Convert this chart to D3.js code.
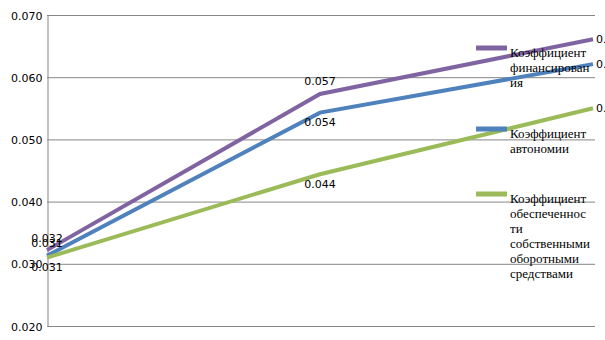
<!DOCTYPE html>
<html>
<head>
<meta charset="utf-8">
<script src="https://cdn.jsdelivr.net/npm/d3@7"></script>
<style>
  body { margin: 0; background: #fff; }
  svg { display: block; }
</style>
</head>
<body>
<svg id="chart" width="605" height="340"></svg>
<script>
// данные
const categories = ["1", "2", "3"];
const seriesNames = [
  ["Коэффициент", "финансирован", "ия"],
  ["Коэффициент", "автономии"],
  ["Коэффициент", "обеспеченнос", "ти", "собственными", "оборотными", "средствами"]
];
const finValues = [0.0322, 0.0573, 0.0661];
const autoValues = [0.0313, 0.0543, 0.0621];
const obespValues = [0.0310, 0.0444, 0.0550];
const yTicks = [0.020, 0.030, 0.040, 0.050, 0.060, 0.070];

const colors = ["#8064A2", "#4F81BD", "#9BBB59"];
// где ставить подписи: a = сверху, b = снизу, r = справа
const placement = [["a", "a", "r"], ["a", "b", "r"], ["b", "b", "r"]];
const legendY = [48, 129, 194];

const svg = d3.select("#chart");
const plotLeft = 47, plotRight = 593, plotTop = 15, plotBottom = 326;

const x = d3.scalePoint().domain(categories).range([plotLeft, plotRight]);
const y = d3.scaleLinear().domain([0.02, 0.07]).range([plotBottom, plotTop]);

// сетка
svg.append("g")
  .selectAll("line")
  .data(yTicks)
  .enter()
  .append("line")
  .attr("x1", plotLeft)
  .attr("x2", 595)
  .attr("y1", d => y(d) + 0.5)
  .attr("y2", d => y(d) + 0.5)
  .attr("stroke", "#868686")
  .attr("stroke-width", 1);

// ось Y
const yAxis = svg.append("g")
  .attr("transform", `translate(${plotLeft + 0.5},0.5)`)
  .call(d3.axisLeft(y).tickValues(yTicks).tickSize(0).tickPadding(5).tickFormat(d3.format(".3f")));
yAxis.select(".domain").attr("stroke", "#868686");
yAxis.selectAll("text")
  .attr("font-family", "DejaVu Sans")
  .attr("font-size", 11)
  .attr("fill", "#000");

const allSeries = [finValues, autoValues, obespValues];

const line = d3.line()
  .x((d, i) => x(categories[i]))
  .y(d => y(d));

allSeries.forEach((vals, s) => {
  svg.append("path")
    .datum(vals)
    .attr("d", line)
    .attr("fill", "none")
    .attr("stroke", colors[s])
    .attr("stroke-width", 4);
});

// подписи значений
allSeries.forEach((vals, s) => {
  svg.append("g")
    .selectAll("text")
    .data(vals)
    .enter()
    .append("text")
    .attr("x", (d, i) => placement[s][i] === "r" ? x(categories[i]) + 3 : x(categories[i]))
    .attr("y", (d, i) => {
      const p = placement[s][i];
      if (p === "a") return y(d) - 12;
      if (p === "b") return y(d) + 10;
      return y(d);
    })
    .attr("text-anchor", (d, i) => placement[s][i] === "r" ? "start" : "middle")
    .attr("dominant-baseline", "central")
    .attr("font-family", "DejaVu Sans")
    .attr("font-size", 11)
    .attr("fill", "#000")
    .text(d => d3.format(".3f")(d));
});

// легенда
seriesNames.forEach((lines, s) => {
  const g = svg.append("g");
  g.append("line")
    .attr("x1", 476).attr("x2", 507)
    .attr("y1", legendY[s]).attr("y2", legendY[s])
    .attr("stroke", colors[s])
    .attr("stroke-width", 5);
  g.selectAll("text")
    .data(lines)
    .enter()
    .append("text")
    .attr("x", 510)
    .attr("y", (d, i) => legendY[s] + 4 + i * 15)
    .attr("dominant-baseline", "central")
    .attr("font-family", "Liberation Serif")
    .attr("font-size", 13)
    .attr("fill", "#000")
    .text(d => d);
});
</script>
</body>
</html>
